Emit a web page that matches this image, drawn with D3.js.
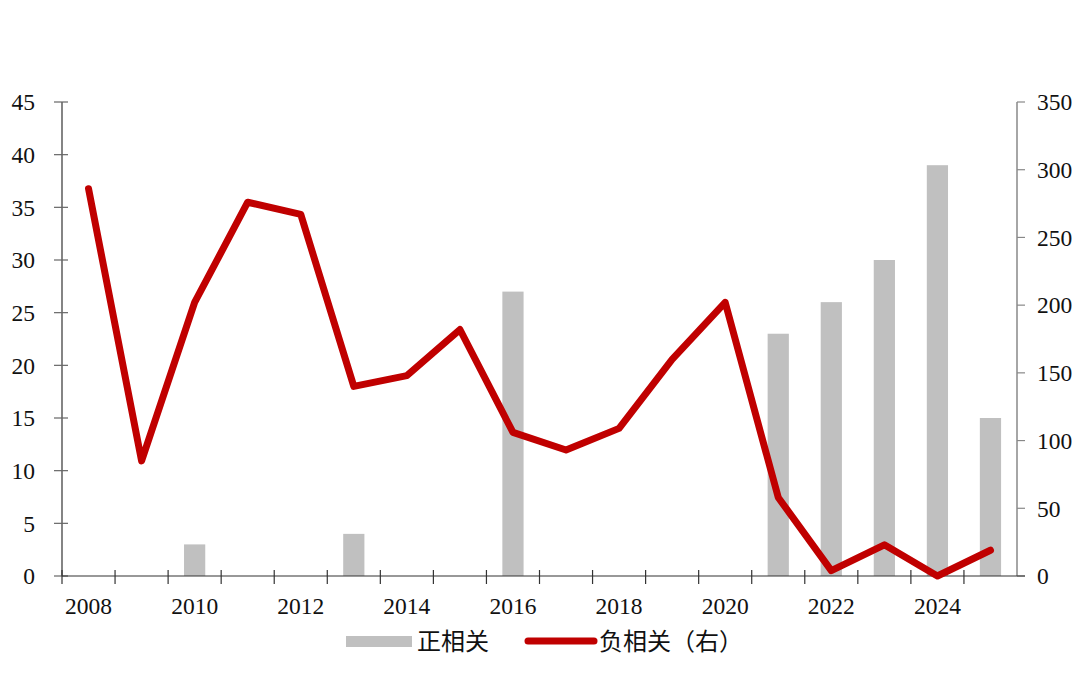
<!DOCTYPE html>
<html><head><meta charset="utf-8">
<script src="https://cdn.jsdelivr.net/npm/d3@7"></script>
<style>body{margin:0;background:#fff;}svg{display:block;}</style>
</head><body>
<svg id="c" width="1080" height="692"></svg>
<script>
const years = ["2008","2009","2010","2011","2012","2013","2014","2015","2016","2017","2018","2019","2020","2021","2022","2023","2024","2025"];
const positive = [0,0,3,0,0,4,0,0,27,0,0,0,0,23,26,30,39,15];
const negative = [286,85,202,276,267,140,148,182,106,93,109,160,202,58,4,23,0,19];
const leftTicks = [0,5,10,15,20,25,30,35,40,45];
const rightTicks = [0,50,100,150,200,250,300,350];
const xLabels = ["2008","2010","2012","2014","2016","2018","2020","2022","2024"];

const svg = d3.select("#c");
const L = 62, R = 1017, T = 102, B = 576;
const x = d3.scaleBand().domain(years).range([L, R]).paddingInner(0).paddingOuter(0);
const yL = d3.scaleLinear().domain([0,45]).range([B,T]);
const yR = d3.scaleLinear().domain([0,350]).range([B,T]);
const serif = "'Liberation Serif','Times New Roman',serif";
const cjk = "'Noto Sans CJK SC','Noto Sans',sans-serif";
const fs = 23.5;

// bars
const bw = x.bandwidth()*0.4;
svg.append("g").selectAll("rect").data(years.map((y,i)=>({y,v:positive[i]})).filter(d=>d.v>0))
  .join("rect")
  .attr("x", d=>x(d.y)+x.bandwidth()/2-bw/2)
  .attr("width", bw)
  .attr("y", d=>yL(d.v))
  .attr("height", d=>B-yL(d.v))
  .attr("fill", "#c0c0c0");

// left axis
const gl = svg.append("g").attr("transform",`translate(${L},0)`);
gl.append("line").attr("x1",0).attr("x2",0).attr("y1",T).attr("y2",B).attr("stroke","#333").attr("stroke-width",1.2);
gl.selectAll("line.t").data(leftTicks).join("line").attr("class","t")
  .attr("x1",-8).attr("x2",6).attr("y1",d=>yL(d)).attr("y2",d=>yL(d)).attr("stroke","#666").attr("stroke-width",1.2);
gl.selectAll("text").data(leftTicks).join("text")
  .attr("x",-27).attr("y",d=>yL(d)).attr("dy","0.35em").attr("text-anchor","end")
  .attr("font-family",serif).attr("font-size",fs).attr("fill","#111").text(d=>d);

// right axis
const gr = svg.append("g").attr("transform",`translate(${R},0)`);
gr.append("line").attr("x1",0).attr("x2",0).attr("y1",T).attr("y2",B).attr("stroke","#888").attr("stroke-width",1.5);
gr.selectAll("line.t").data(rightTicks).join("line").attr("class","t")
  .attr("x1",0).attr("x2",8).attr("y1",d=>yR(d)).attr("y2",d=>yR(d)).attr("stroke","#888").attr("stroke-width",1.2);
gr.selectAll("text").data(rightTicks).join("text")
  .attr("x",20).attr("y",d=>yR(d)).attr("dy","0.35em").attr("text-anchor","start")
  .attr("font-family",serif).attr("font-size",fs).attr("fill","#111").text(d=>d);

// x axis
const gx = svg.append("g");
gx.append("line").attr("x1",L).attr("x2",R+8).attr("y1",B).attr("y2",B).attr("stroke","#333").attr("stroke-width",1.2);
const bounds = years.map(y=>x(y));
gx.selectAll("line.t").data(bounds).join("line").attr("class","t")
  .attr("x1",d=>d).attr("x2",d=>d).attr("y1",B-6).attr("y2",B+8).attr("stroke","#333").attr("stroke-width",1.2);
gx.selectAll("text").data(xLabels).join("text")
  .attr("x",d=>x(d)+x.bandwidth()/2).attr("y",B+38).attr("text-anchor","middle")
  .attr("font-family",serif).attr("font-size",fs).attr("fill","#111").text(d=>d);

// line
const line = d3.line().x((d,i)=>x(years[i])+x.bandwidth()/2).y(d=>yR(d));
svg.append("path").datum(negative).attr("d",line).attr("fill","none")
  .attr("stroke","#c00000").attr("stroke-width",7).attr("stroke-linejoin","round").attr("stroke-linecap","round");

// legend
const lg = svg.append("g");
lg.append("rect").attr("x",346).attr("y",636).attr("width",66).attr("height",11).attr("fill","#c0c0c0");
lg.append("text").attr("x",417).attr("y",642).attr("dy","0.35em").attr("font-family",cjk).attr("font-size",24).attr("fill","#111").text("正相关");
lg.append("line").attr("x1",528).attr("x2",594).attr("y1",641).attr("y2",641).attr("stroke","#c00000").attr("stroke-width",7).attr("stroke-linecap","round");
lg.append("text").attr("x",599).attr("y",642).attr("dy","0.35em").attr("font-family",cjk).attr("font-size",24).attr("fill","#111").text("负相关（右）");
</script>
</body></html>
